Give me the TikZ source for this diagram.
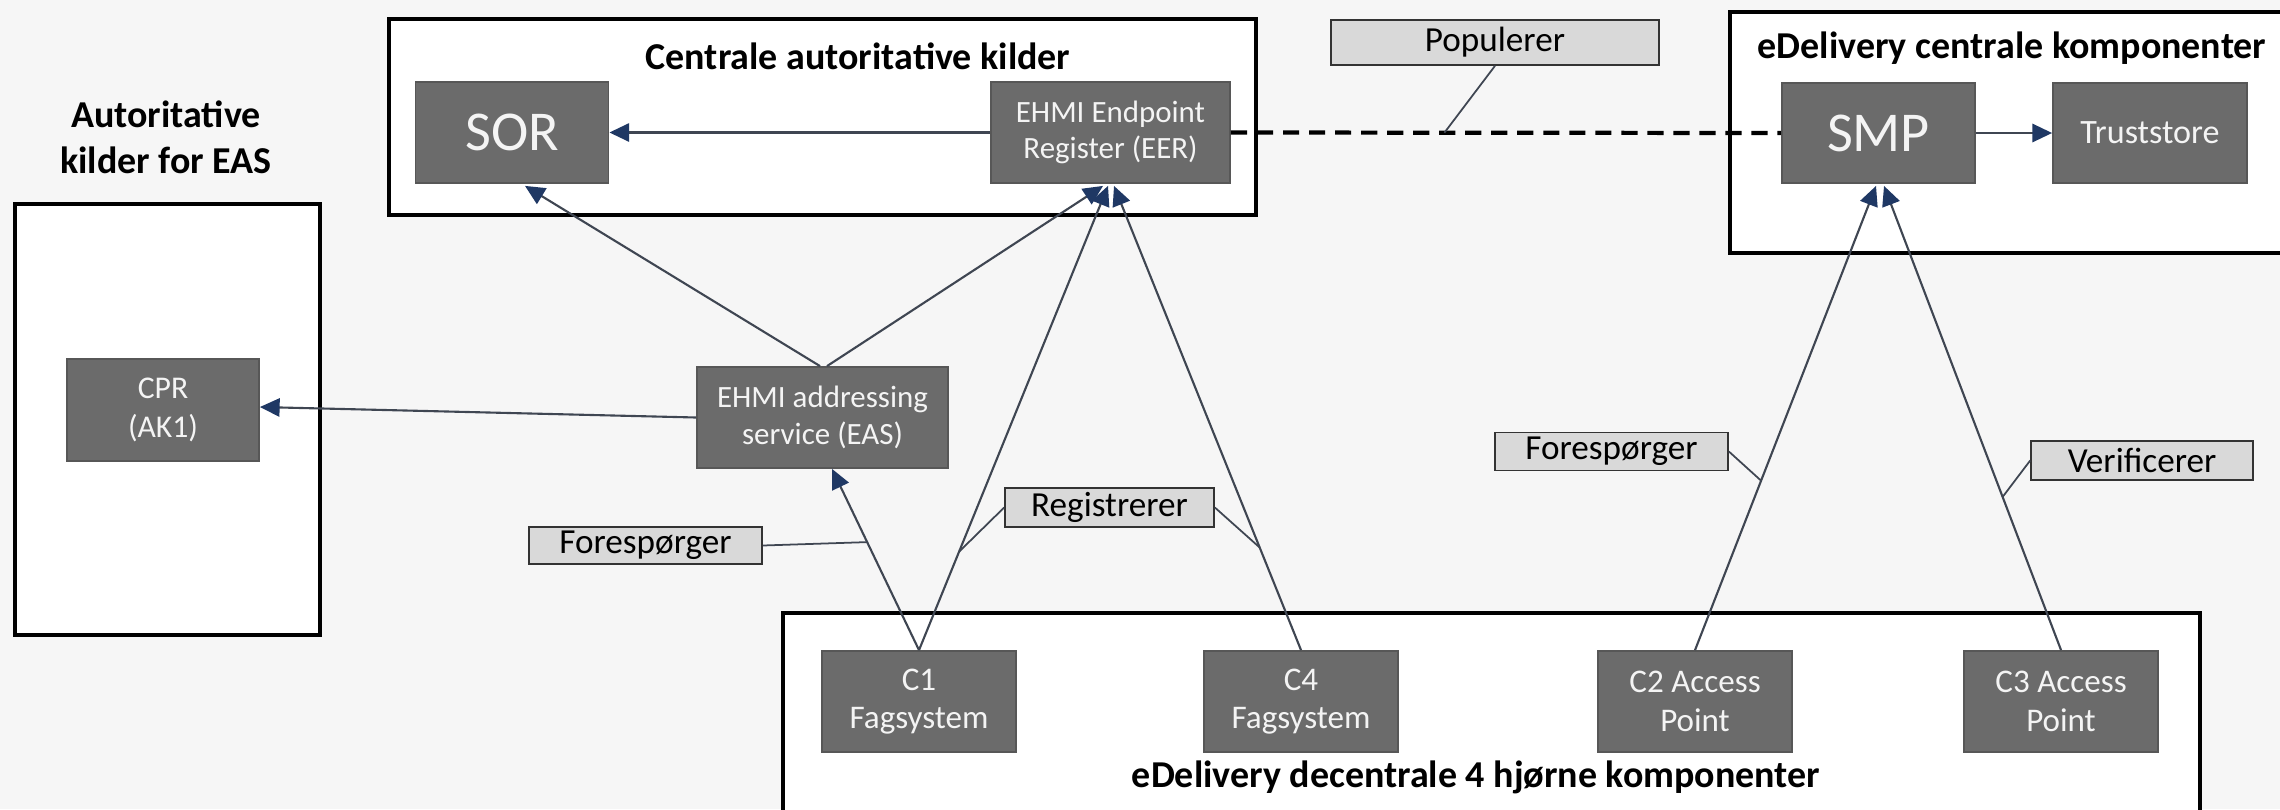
\documentclass[tikz,border=0pt]{standalone}
\usepackage{fontspec}
\setmainfont{Carlito}
\usetikzlibrary{arrows.meta,calc}
\definecolor{bgcol}{HTML}{F6F6F6}
\definecolor{boxfill}{HTML}{6B6B6B}
\definecolor{boxline}{HTML}{575757}
\definecolor{boxtext}{HTML}{F4F4F4}
\definecolor{lblfill}{HTML}{D9D9D9}
\definecolor{tipcol}{HTML}{1F3864}
\definecolor{linecol}{HTML}{3F4652}
\begin{document}
\begin{tikzpicture}[x=0.01cm,y=-0.01cm,
  grp/.style={draw=black,line width=1.1pt,fill=white},
  comp/.style={draw=boxline,line width=0.5pt,fill=boxfill,text=boxtext,align=center,inner sep=0pt},
  small/.style={font=\fontsize{8.8pt}{10.3pt}\selectfont},
  big/.style={font=\fontsize{16pt}{18pt}\selectfont},
  cbox/.style={comp,minimum width=1.94cm,minimum height=1.01cm,font=\fontsize{9.4pt}{10.9pt}\selectfont},
  lbl/.style={draw=black!80,line width=0.45pt,fill=lblfill,inner sep=0pt,font=\fontsize{10pt}{12pt}\selectfont},
  ttl/.style={font=\bfseries\fontsize{10.8pt}{13pt}\selectfont,inner sep=0pt},
  conn/.style={draw=linecol,line width=0.6pt,-{Triangle[length=5.6pt,width=5.2pt,color=tipcol]}},
  lead/.style={draw=linecol,line width=0.5pt},
  popline/.style={draw=black,line width=1.2pt,dash pattern=on 4.6pt off 2.8pt}
]
\useasboundingbox (0,0) rectangle (2280,809);
\clip (0,0) rectangle (2280,809);
\fill[bgcol] (0,0) rectangle (2280,809);

% group boxes
\draw[grp] (15,204) rectangle (320,635);
\draw[grp] (389,19) rectangle (1256,215);
\draw[grp] (1730,12) rectangle (2300,253);
\draw[grp] (783,613) rectangle (2200,830);

% titles
\node[ttl,align=center] (tleft) at (166,137) {Autoritative\\kilder for EAS};
\node[ttl,anchor=base] (tcentral) at (858,69) {Centrale autoritative kilder};
\node[ttl,anchor=base west] (tedel) at (1757,58) {eDelivery centrale komponenter};
\node[ttl,anchor=base] (tbottom) at (1476,787) {eDelivery decentrale 4 hjørne komponenter};

% components
\node[comp,big,minimum width=1.93cm,minimum height=1.01cm] (SOR) at (512,132.5) {SOR};
\node[comp,small,minimum width=2.39cm,minimum height=1.01cm] (EER) at (1110.5,132.5) {EHMI Endpoint\\Register (EER)};
\node[comp,big,minimum width=1.93cm,minimum height=1.00cm] (SMP) at (1878.5,133) {SMP};
\node[comp,minimum width=1.94cm,minimum height=1.00cm,font=\fontsize{9.7pt}{11pt}\selectfont] (TS) at (2150,133) {Truststore};
\node[comp,minimum width=1.92cm,minimum height=1.02cm,font=\fontsize{9pt}{11pt}\selectfont] (CPR) at (163,410) {CPR\\(AK1)};
\node[comp,small,minimum width=2.51cm,minimum height=1.01cm] (EAS) at (822.5,417.5) {EHMI addressing\\service (EAS)};
\node[cbox] (C1) at (919,701.5) {C1\\Fagsystem};
\node[cbox] (C4) at (1301,701.5) {C4\\Fagsystem};
\node[cbox] (C2) at (1695,701.5) {C2 Access\\Point};
\node[cbox] (C3) at (2061,701.5) {C3 Access\\Point};

% connectors
\draw[conn] (EER.west) -- (SOR.east);
\draw[conn] (SMP.east) -- (TS.west);
\draw[conn] (EAS.west) -- ($(CPR.east)+(0,-3)$);
\draw[conn] ($(EAS.north)+(-2.5,0)$) -- ($(SOR.south)+(13,2)$);
\draw[conn] ($(EAS.north)+(4.5,0)$) -- ($(EER.south)+(-7.5,2)$);
\draw[conn] (C1.north) -- ($(EAS.south)+(9.5,0)$) coordinate[pos=0.596] (pFL);
\draw[conn] (C1.north) -- ($(EER.south)+(-2.5,2)$) coordinate[pos=0.212] (pRL);
\draw[conn] (C4.north) -- ($(EER.south)+(3.5,2)$) coordinate[pos=0.221] (pRR);
\draw[conn] (C2.north) -- ($(SMP.south)+(-2.5,2)$) coordinate[pos=0.365] (pFR);
\draw[conn] (C3.north) -- ($(SMP.south)+(5.5,2)$) coordinate[pos=0.33] (pV);
\draw[popline] (EER.east) -- (SMP.west) coordinate[pos=0.388] (pP);

% labels
\node[lbl,minimum width=3.28cm,minimum height=0.45cm] (Pop) at (1495,42.5) {Populerer};
\node[lbl,minimum width=2.09cm,minimum height=0.39cm] (Reg) at (1109.5,507.5) {Registrerer};
\node[lbl,minimum width=2.33cm,minimum height=0.37cm] (FL) at (645.5,545.5) {Forespørger};
\node[lbl,minimum width=2.33cm,minimum height=0.38cm] (FR) at (1611.5,451.5) {Forespørger};
\node[lbl,minimum width=2.22cm,minimum height=0.39cm] (Ver) at (2142,460.5) {Verificerer};

% leaders
\draw[lead] (Pop.south) -- (pP);
\draw[lead] (Reg.west) -- (pRL);
\draw[lead] (Reg.east) -- (pRR);
\draw[lead] (FL.east) -- (pFL);
\draw[lead] (FR.east) -- (pFR);
\draw[lead] (Ver.west) -- (pV);
\end{tikzpicture}
\end{document}
